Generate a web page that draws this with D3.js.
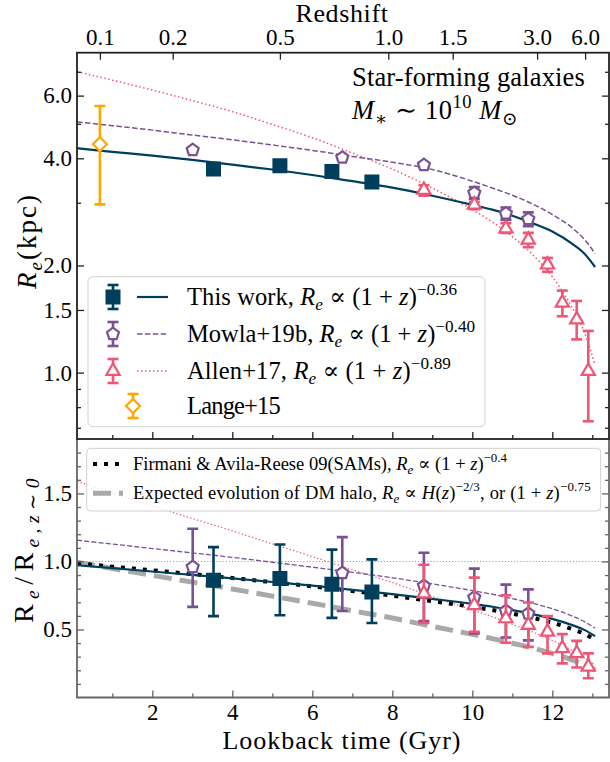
<!DOCTYPE html>
<html>
<head>
<meta charset="utf-8">
<script src="https://cdn.jsdelivr.net/npm/d3@7/dist/d3.min.js"></script>
<style>
  body { margin: 0; background: #fff; }
  svg text { font-family: "Liberation Serif", "DejaVu Serif", serif; white-space: pre; }
</style>
</head>
<body>
<div id="chart"></div>
<script>
// lookback time grid (Gyr) on which the fitted curves were read
let curve_t = [0.12, 1, 2, 3, 4, 5, 6, 7, 8, 9, 10, 10.5, 11, 11.5, 12, 12.5, 12.8, 13.07];

// top panel curves, R_e (kpc)
let this_work_fit = [4.27, 4.17, 4.07, 3.96, 3.84, 3.72, 3.59, 3.45, 3.31, 3.14, 2.96, 2.87, 2.76, 2.63, 2.49, 2.30, 2.16, 1.98];
let mowla_fit = [5.06, 4.94, 4.80, 4.65, 4.51, 4.36, 4.21, 4.05, 3.90, 3.72, 3.45, 3.30, 3.15, 2.98, 2.78, 2.55, 2.37, 2.16];
let allen_fit = [7.01, 6.63, 6.22, 5.81, 5.41, 4.98, 4.57, 4.14, 3.73, 3.30, 2.87, 2.65, 2.41, 2.15, 1.86, 1.52, 1.30, 1.05];

// bottom panel curves, R_e / R_e,z~0
let this_work_norm = [0.972, 0.951, 0.926, 0.901, 0.876, 0.849, 0.822, 0.791, 0.760, 0.725, 0.688, 0.667, 0.642, 0.613, 0.578, 0.532, 0.497, 0.451];
let mowla_norm = [1.156, 1.128, 1.095, 1.063, 1.030, 0.994, 0.958, 0.920, 0.880, 0.835, 0.786, 0.759, 0.727, 0.693, 0.652, 0.598, 0.558, 0.510];
let allen_norm = [1.589, 1.503, 1.409, 1.316, 1.225, 1.129, 1.036, 0.939, 0.845, 0.742, 0.644, 0.593, 0.538, 0.482, 0.420, 0.345, 0.294, 0.238];
let firmani_norm = [0.987, 0.962, 0.935, 0.907, 0.878, 0.848, 0.817, 0.783, 0.748, 0.708, 0.666, 0.643, 0.616, 0.586, 0.550, 0.503, 0.468, 0.424];
let halo_norm = [0.994, 0.948, 0.898, 0.848, 0.798, 0.745, 0.693, 0.638, 0.584, 0.523, 0.464, 0.433, 0.399, 0.364, 0.324, 0.275, 0.240, 0.201];

// this work
let tw_t = [3.53, 5.19, 6.49, 7.49];
let tw_r = [3.73, 3.81, 3.67, 3.43];
let tw_r_err = [0.06, 0.06, 0.06, 0.06];
let tw_ratio = [0.861, 0.874, 0.832, 0.776];
let tw_ratio_hi = [1.105, 1.125, 1.087, 1.015];
let tw_ratio_lo = [0.598, 0.605, 0.585, 0.548];

// Mowla+19b
let mw_t = [3.01, 6.75, 8.79, 10.05, 10.84, 11.40];
let mw_r = [4.22, 4.02, 3.83, 3.20, 2.80, 2.70];
let mw_r_err = [0.05, 0.05, 0.06, 0.12, 0.11, 0.12];
let mw_ratio = [0.959, 0.915, 0.820, 0.735, 0.636, 0.617];
let mw_ratio_hi = [1.240, 1.179, 1.064, 0.947, 0.830, 0.795];
let mw_ratio_lo = [0.666, 0.636, 0.561, 0.471, 0.441, 0.420];

// Allen+17
let al_t = [8.79, 10.05, 10.84, 11.40, 11.88, 12.25, 12.61, 12.90];
let al_r = [3.26, 2.96, 2.54, 2.36, 2.01, 1.57, 1.41, 1.01];
let al_r_hi = [3.36, 3.02, 2.63, 2.47, 2.10, 1.70, 1.59, 1.31];
let al_r_lo = [3.14, 2.88, 2.47, 2.25, 1.92, 1.44, 1.24, 0.73];
let al_ratio = [0.764, 0.678, 0.581, 0.532, 0.482, 0.361, 0.324, 0.226];
let al_ratio_hi = [0.976, 0.881, 0.751, 0.698, 0.598, 0.466, 0.416, 0.324];
let al_ratio_lo = [0.548, 0.482, 0.402, 0.372, 0.324, 0.251, 0.221, 0.141];

// Lange+15
let lg_t = [0.69];
let lg_r = [4.38];
let lg_r_hi = [5.61];
let lg_r_lo = [2.97];

// ticks
let z_labels = ['0.1', '0.2', '0.5', '1.0', '1.5', '3.0', '6.0'];
let z_lookback = [0.69, 2.51, 5.19, 7.90, 9.51, 11.62, 12.82];
let x_major = [2, 4, 6, 8, 10, 12];
let x_minor = [1, 3, 5, 7, 9, 11, 13];
let y_top_major = [1.0, 1.5, 2.0, 4.0, 6.0];
let y_top_minor = [0.7, 0.8, 0.9, 3, 5, 7];
let y_bot_major = [0.5, 1.0, 1.5];
let y_bot_minor = [0.1, 0.2, 0.3, 0.4, 0.6, 0.7, 0.8, 0.9, 1.1, 1.2, 1.3, 1.4, 1.6, 1.7, 1.8];

let c_navy = '#003f5c', c_purple = '#7a5195', c_pink = '#ef5675', c_orange = '#ffa600';

let width = 610, height = 762;
let left = 77, right = 609, top1 = 52.7, bot1 = 439, bot2 = 697.5;

let svg = d3.select('#chart').append('svg')
    .attr('width', width)
    .attr('height', height);

let x_scale = d3.scaleLinear().domain([0.1175, 13.4175]).range([left, right]);
let y_top = d3.scaleLog().domain([0.651, 7.92]).range([bot1, top1]);
let y_bot = d3.scaleLinear().domain([0, 1.9]).range([bot2, bot1]);

// clip paths
let defs = svg.append('defs');
defs.append('clipPath').attr('id', 'clip-top').append('rect')
    .attr('x', left).attr('y', top1).attr('width', right - left).attr('height', bot1 - top1);
defs.append('clipPath').attr('id', 'clip-bot').append('rect')
    .attr('x', left).attr('y', bot1).attr('width', right - left).attr('height', bot2 - bot1);

// text with sub/superscripts; letter spacing tuned so the width matches the figure
function rich(g, x, y, fs, parts, anchor, len) {
    let t = g.append('text').attr('x', x).attr('y', y)
        .attr('font-size', fs).attr('text-anchor', anchor || 'start').attr('fill', '#000');
    let cur = 0;
    parts.forEach(([s, k]) => {
        let sp = t.append('tspan').text(s);
        let off = 0, size = fs;
        if (k.includes('sub')) { off = 0.22 * fs; size = 0.7 * fs; }
        if (k.includes('sup')) { off = -0.42 * fs; size = 0.7 * fs; }
        sp.attr('dy', off - cur).attr('font-size', size);
        if (k.startsWith('i')) sp.attr('font-style', 'italic');
        cur = off;
    });
    if (len) {
        let natural = t.node().getComputedTextLength();
        let n = t.text().length;
        t.attr('letter-spacing', ((len - natural) / n).toFixed(2));
    }
    return t;
}

// marker shapes
function polygon(n, r) {
    let p = d3.path();
    for (let i = 0; i < n; i++) {
        let a = -Math.PI / 2 + i * 2 * Math.PI / n;
        if (i === 0) p.moveTo(r * Math.cos(a), r * Math.sin(a));
        else p.lineTo(r * Math.cos(a), r * Math.sin(a));
    }
    p.closePath();
    return p.toString();
}
function diamond(r) {
    return 'M0,' + (-r) + 'L' + r + ',0L0,' + r + 'L' + (-r) + ',0Z';
}
let shapes = {
    square: d => 'M-7.5,-7.5h15v15h-15Z',
    pentagon: d => polygon(5, 6.3),
    triangle: d => polygon(3, 7.6),
    diamond: d => diamond(7)
};

// draw error bars + markers
function errorbars(g, rows, y, color, shape, filled, capw) {
    let eb = g.append('g');
    eb.selectAll('line.bar').data(rows).enter().append('line')
        .attr('x1', d => x_scale(d.t)).attr('x2', d => x_scale(d.t))
        .attr('y1', d => y(d.lo)).attr('y2', d => y(d.hi))
        .attr('stroke', color).attr('stroke-width', 2.6);
    ['lo', 'hi'].forEach(k => {
        eb.selectAll('line.cap' + k).data(rows).enter().append('line')
            .attr('x1', d => x_scale(d.t) - capw).attr('x2', d => x_scale(d.t) + capw)
            .attr('y1', d => y(d[k])).attr('y2', d => y(d[k]))
            .attr('stroke', color).attr('stroke-width', 2.6);
    });
    eb.selectAll('path').data(rows).enter().append('path')
        .attr('d', shapes[shape])
        .attr('transform', d => 'translate(' + x_scale(d.t) + ',' + y(d.v) + ')')
        .attr('fill', filled ? color : '#fff')
        .attr('stroke', color).attr('stroke-width', filled ? 0 : 2.2);
}

function curve(g, vals, y, color, w, dash, cap) {
    let pts = curve_t.map((t, i) => [t, vals[i]]);
    g.append('path')
        .attr('d', d3.line().curve(d3.curveMonotoneX).x(d => x_scale(d[0])).y(d => y(d[1]))(pts))
        .attr('fill', 'none').attr('stroke', color).attr('stroke-width', w)
        .attr('stroke-dasharray', dash || null)
        .attr('stroke-linecap', cap || 'butt');
}

// ---------------- bottom panel ----------------
let gb = svg.append('g');
let pb = gb.append('g').attr('clip-path', 'url(#clip-bot)');

pb.append('line')
    .attr('x1', left).attr('x2', right).attr('y1', y_bot(1)).attr('y2', y_bot(1))
    .attr('stroke', '#999').attr('stroke-width', 1.1).attr('stroke-dasharray', '1.1,2');
curve(pb, allen_norm, y_bot, c_pink, 1.3, '1.3,2.3');
curve(pb, mowla_norm, y_bot, c_purple, 1.3, '5,2.2');
curve(pb, halo_norm, y_bot, '#a9a9a9', 5, '18,8');
curve(pb, firmani_norm, y_bot, '#000', 4, '4,7');
curve(pb, this_work_norm, y_bot, c_navy, 2.2);

errorbars(pb, mw_t.map((t, i) => ({t: t, v: mw_ratio[i], lo: mw_ratio_lo[i], hi: mw_ratio_hi[i]})), y_bot, c_purple, 'pentagon', false, 5.5);
errorbars(pb, al_t.map((t, i) => ({t: t, v: al_ratio[i], lo: al_ratio_lo[i], hi: al_ratio_hi[i]})), y_bot, c_pink, 'triangle', false, 5.5);
errorbars(pb, tw_t.map((t, i) => ({t: t, v: tw_ratio[i], lo: tw_ratio_lo[i], hi: tw_ratio_hi[i]})), y_bot, c_navy, 'square', true, 5.5);

// bottom legend
let lb = gb.append('g');
lb.append('rect').attr('x', 86.7).attr('y', 448.3).attr('width', 514).attr('height', 62.7).attr('rx', 4)
    .attr('fill', '#fff').attr('fill-opacity', 0.8).attr('stroke', '#d0d0d0').attr('stroke-width', 1);
lb.append('line').attr('x1', 93).attr('x2', 123).attr('y1', 464).attr('y2', 464)
    .attr('stroke', '#000').attr('stroke-width', 4).attr('stroke-dasharray', '4,7');
lb.append('line').attr('x1', 93).attr('x2', 123).attr('y1', 493.3).attr('y2', 493.3)
    .attr('stroke', '#a9a9a9').attr('stroke-width', 5).attr('stroke-dasharray', '18,8');
rich(lb, 133, 470, 18.5, [['Firmani & Avila-Reese 09(SAMs), ', 'r'], ['R', 'i'], ['e', 'isub'], [' ∝ (1 + ', 'r'], ['z', 'i'], [')', 'r'], ['−0.4', 'sup']], 'start', 374);
rich(lb, 133, 499, 18.5, [['Expected evolution of DM halo, ', 'r'], ['R', 'i'], ['e', 'isub'], [' ∝ ', 'r'], ['H', 'i'], ['(', 'r'], ['z', 'i'], [')', 'r'], ['−2/3', 'sup'], [', or (1 + ', 'r'], ['z', 'i'], [')', 'r'], ['−0.75', 'sup']], 'start', 458);

// bottom axes
let grey = '#666';
function style_axis(g, color) {
    g.select('.domain').remove();
    g.attr('font-family', null);
    g.selectAll('.tick line').attr('stroke', color).attr('stroke-width', 1.3);
    g.selectAll('.tick text').attr('fill', '#000').attr('font-size', 23);
}
let ax;
ax = gb.append('g').attr('transform', 'translate(' + left + ',0)')
    .call(d3.axisLeft(y_bot).tickValues(y_bot_major).tickFormat(d3.format('.1f')).tickSize(-7).tickPadding(5));
style_axis(ax, grey);
ax = gb.append('g').attr('transform', 'translate(' + left + ',0)')
    .call(d3.axisLeft(y_bot).tickValues(y_bot_minor).tickFormat('').tickSize(-4));
style_axis(ax, grey);
ax = gb.append('g').attr('transform', 'translate(' + right + ',0)')
    .call(d3.axisRight(y_bot).tickValues(y_bot_major).tickFormat('').tickSize(-7));
style_axis(ax, grey);
ax = gb.append('g').attr('transform', 'translate(' + right + ',0)')
    .call(d3.axisRight(y_bot).tickValues(y_bot_minor).tickFormat('').tickSize(-4));
style_axis(ax, grey);
ax = gb.append('g').attr('transform', 'translate(0,' + bot2 + ')')
    .call(d3.axisBottom(x_scale).tickValues(x_major).tickFormat(d3.format('d')).tickSize(-7).tickPadding(6));
style_axis(ax, grey);
ax = gb.append('g').attr('transform', 'translate(0,' + bot2 + ')')
    .call(d3.axisBottom(x_scale).tickValues(x_minor).tickFormat('').tickSize(-4));
style_axis(ax, grey);

gb.append('path')
    .attr('d', 'M' + left + ',' + bot1 + 'V' + bot2 + 'H' + right + 'V' + bot1)
    .attr('fill', 'none').attr('stroke', grey).attr('stroke-width', 1.8);

// ---------------- top panel ----------------
let gt = svg.append('g');
let pt = gt.append('g').attr('clip-path', 'url(#clip-top)');

curve(pt, allen_fit, y_top, c_pink, 1.5, '1.5,2.5');
curve(pt, mowla_fit, y_top, c_purple, 1.5, '5.5,2.4');
curve(pt, this_work_fit, y_top, c_navy, 2.2);

errorbars(pt, mw_t.map((t, i) => ({t: t, v: mw_r[i], lo: mw_r[i] - mw_r_err[i], hi: mw_r[i] + mw_r_err[i]})), y_top, c_purple, 'pentagon', false, 5.5);
errorbars(pt, al_t.map((t, i) => ({t: t, v: al_r[i], lo: al_r_lo[i], hi: al_r_hi[i]})), y_top, c_pink, 'triangle', false, 5.5);
errorbars(pt, lg_t.map((t, i) => ({t: t, v: lg_r[i], lo: lg_r_lo[i], hi: lg_r_hi[i]})), y_top, c_orange, 'diamond', false, 5.5);
errorbars(pt, tw_t.map((t, i) => ({t: t, v: tw_r[i], lo: tw_r[i] - tw_r_err[i], hi: tw_r[i] + tw_r_err[i]})), y_top, c_navy, 'square', true, 5.5);

// top legend
let lt = gt.append('g');
lt.append('rect').attr('x', 88).attr('y', 276.7).attr('width', 397).attr('height', 150).attr('rx', 5)
    .attr('fill', '#fff').attr('fill-opacity', 0.8).attr('stroke', '#d0d0d0').attr('stroke-width', 1);

let legend_rows = [
    {y: 297, color: c_navy, shape: 'square', filled: true, mx: 113, dash: null, w: 2.2, len: 270,
     parts: [['This work, ', 'r'], ['R', 'i'], ['e', 'isub'], [' ∝ (1 + ', 'r'], ['z', 'i'], [')', 'r'], ['−0.36', 'sup']]},
    {y: 334, color: c_purple, shape: 'pentagon', filled: false, mx: 113, dash: '5.5,2.4', w: 1.5, len: 288,
     parts: [['Mowla+19b, ', 'r'], ['R', 'i'], ['e', 'isub'], [' ∝ (1 + ', 'r'], ['z', 'i'], [')', 'r'], ['−0.40', 'sup']]},
    {y: 371, color: c_pink, shape: 'triangle', filled: false, mx: 113, dash: '1.5,2.5', w: 1.5, len: 264,
     parts: [['Allen+17, ', 'r'], ['R', 'i'], ['e', 'isub'], [' ∝ (1 + ', 'r'], ['z', 'i'], [')', 'r'], ['−0.89', 'sup']]},
    {y: 406, color: c_orange, shape: 'diamond', filled: false, mx: 133, dash: null, w: 0, len: 93,
     parts: [['Lange+15', 'r']]}
];
legend_rows.forEach(r => {
    lt.append('line').attr('x1', r.mx).attr('x2', r.mx).attr('y1', r.y - 12).attr('y2', r.y + 12)
        .attr('stroke', r.color).attr('stroke-width', 2.6);
    [-12, 12].forEach(o => lt.append('line').attr('x1', r.mx - 5.5).attr('x2', r.mx + 5.5)
        .attr('y1', r.y + o).attr('y2', r.y + o).attr('stroke', r.color).attr('stroke-width', 2.6));
    lt.append('path').attr('d', shapes[r.shape]()).attr('transform', 'translate(' + r.mx + ',' + r.y + ')')
        .attr('fill', r.filled ? r.color : '#fff').attr('stroke', r.color).attr('stroke-width', r.filled ? 0 : 2.2);
    if (r.w > 0) {
        lt.append('line').attr('x1', 137).attr('x2', 168).attr('y1', r.y).attr('y2', r.y)
            .attr('stroke', r.color).attr('stroke-width', r.w).attr('stroke-dasharray', r.dash);
    }
    rich(lt, 187, r.y + 8, 24.5, r.parts, 'start', r.len);
});

// annotation
rich(gt, 352, 86, 26.5, [['Star-forming galaxies', 'r']], 'start', 233);
rich(gt, 352, 119, 26.5, [['M', 'i'], ['∗', 'sub'], [' ∼ 10', 'r'], ['10', 'sup'], [' ', 'r'], ['M', 'i'], ['⊙', 'sub']], 'start', 166);

// top axes
let black = '#222';
ax = gt.append('g').attr('transform', 'translate(' + left + ',0)')
    .call(d3.axisLeft(y_top).tickValues(y_top_major).tickFormat(d3.format('.1f')).tickSize(-7).tickPadding(5));
style_axis(ax, black);
ax = gt.append('g').attr('transform', 'translate(' + left + ',0)')
    .call(d3.axisLeft(y_top).tickValues(y_top_minor).tickFormat('').tickSize(-4));
style_axis(ax, black);
ax = gt.append('g').attr('transform', 'translate(' + right + ',0)')
    .call(d3.axisRight(y_top).tickValues(y_top_major).tickFormat('').tickSize(-7));
style_axis(ax, black);
ax = gt.append('g').attr('transform', 'translate(' + right + ',0)')
    .call(d3.axisRight(y_top).tickValues(y_top_minor).tickFormat('').tickSize(-4));
style_axis(ax, black);
ax = gt.append('g').attr('transform', 'translate(0,' + bot1 + ')')
    .call(d3.axisBottom(x_scale).tickValues(x_major).tickFormat('').tickSize(-7));
style_axis(ax, black);
ax = gt.append('g').attr('transform', 'translate(0,' + bot1 + ')')
    .call(d3.axisBottom(x_scale).tickValues(x_minor).tickFormat('').tickSize(-4));
style_axis(ax, black);
ax = gt.append('g').attr('transform', 'translate(0,' + top1 + ')')
    .call(d3.axisTop(x_scale).tickValues(z_lookback).tickFormat((d, i) => z_labels[i]).tickSize(-7).tickPadding(8));
style_axis(ax, black);

gt.append('rect').attr('x', left).attr('y', top1).attr('width', right - left).attr('height', bot1 - top1)
    .attr('fill', 'none').attr('stroke', black).attr('stroke-width', 1.8);

// axis titles
rich(svg, 342, 22, 26, [['Redshift', 'r']], 'middle', 93);
rich(svg, 342, 749, 26, [['Lookback time (Gyr)', 'r']], 'middle', 239);

let yl1 = svg.append('g').attr('transform', 'translate(36,241) rotate(-90)');
rich(yl1, 0, 0, 27, [['R', 'i'], ['e', 'isub'], ['(kpc)', 'r']], 'middle', 96);
let yl2 = svg.append('g').attr('transform', 'translate(33,548) rotate(-90)');
rich(yl2, 0, 0, 28, [['R', 'r'], ['e', 'isub'], ['/', 'r'], ['R', 'r'], ['e,z∼0', 'isub']], 'middle', 150);
</script>
</body>
</html>
